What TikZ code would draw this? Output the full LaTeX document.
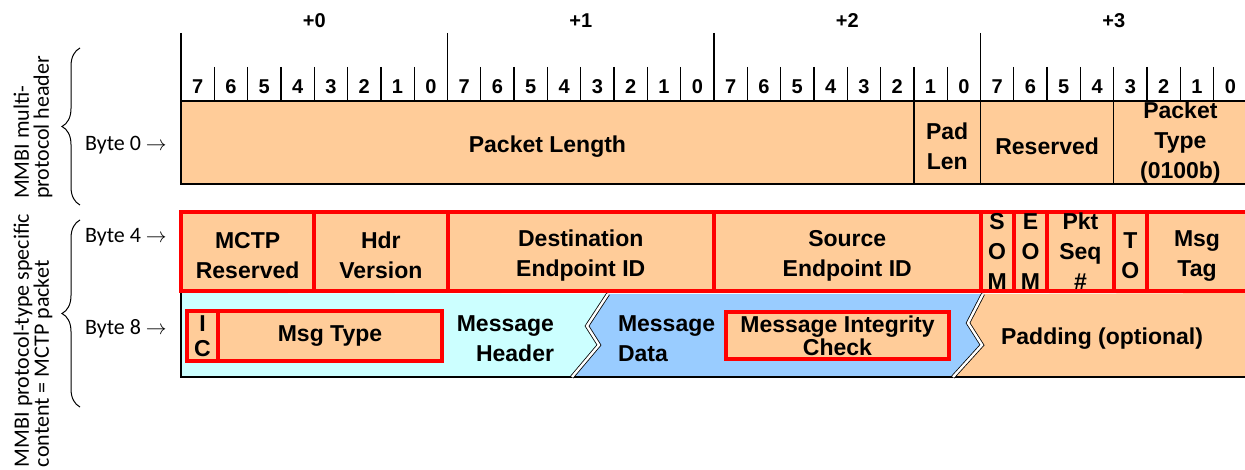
\documentclass[tikz,border=0pt]{standalone}
\usepackage{fontspec}
\setmainfont{Liberation Sans}
\newfontfamily\sidefont{Carlito}
\usepackage{tikz}
\usetikzlibrary{decorations.pathreplacing}
\definecolor{peach}{RGB}{255,204,153}
\definecolor{hdrcyan}{RGB}{204,255,255}
\definecolor{datablue}{RGB}{153,204,255}
\definecolor{mctpred}{RGB}{255,0,0}
\def\bw{33.3125}
\def\lft{181}
\newcommand{\lowstrut}{\rule{0pt}{25pt}}

\begin{document}
\begin{tikzpicture}[x=1pt, y=-1pt,
  every node/.style={inner sep=0pt, outer sep=0pt, align=center, font=\fontsize{23}{30}\selectfont\bfseries},
  bitnum/.style={font=\fontsize{20}{20}\selectfont\bfseries},
  hdrfield/.style={draw=black, line width=1.3pt, fill=peach, anchor=north west, minimum height=83pt},
  mctpfield/.style={draw=mctpred, line width=4pt, fill=peach, anchor=north west, minimum height=79pt},
  mctpbox/.style={draw=mctpred, line width=3.6pt, fill=peach, anchor=north west},
  sidelbl/.style={font=\fontsize{22}{20}\selectfont\sidefont},
  zig/.style={draw=black, line width=0.8pt, double=white, double distance=2.4pt}]
\useasboundingbox (0,0) rectangle (1245,470);

% byte offsets and bit numbers
\foreach \b in {0,...,3} {
  \draw[line width=1.3pt] ({\lft+\b*8*\bw},33) -- ({\lft+\b*8*\bw},101);
  \node[bitnum] (offs\b) at ({\lft+(\b*8+4)*\bw},21) {+\b};
}
\foreach \i in {0,...,31} {
  \pgfmathtruncatemacro\bitno{7-mod(\i,8)}
  \draw[line width=1.3pt] ({\lft+\i*\bw},67) -- ({\lft+\i*\bw},101);
  \node[bitnum] (bit\i) at ({\lft+(\i+0.5)*\bw},87) {\bitno};
}

% MMBI header
\node[hdrfield, minimum width={22*\bw}] (pktlen) at (\lft,101) {\lowstrut Packet Length};
\node[hdrfield, minimum width={2*\bw}] (padlen) at ({\lft+22*\bw},101) {\lowstrut Pad\\Len};
\node[hdrfield, minimum width={4*\bw}] (rsvd) at ({\lft+24*\bw},101) {\lowstrut Reserved};
\node[hdrfield, minimum width={4*\bw}] (pkttype) at ({\lft+28*\bw},101) {Packet\\Type\\(0100b)};

% MCTP transport header
\node[mctpfield, minimum width={4*\bw}] (mctprsvd) at (\lft,212) {\lowstrut MCTP\\Reserved};
\node[mctpfield, minimum width={4*\bw}] (hdrver) at ({\lft+4*\bw},212) {\lowstrut Hdr\\Version};
\node[mctpfield, minimum width={8*\bw}] (destid) at ({\lft+8*\bw},212) {\lowstrut Destination\\Endpoint ID};
\node[mctpfield, minimum width={8*\bw}] (srcid) at ({\lft+16*\bw},212) {\lowstrut Source\\Endpoint ID};
\node[mctpfield, minimum width={\bw}] (som) at ({\lft+24*\bw},212) {S\\O\\M};
\node[mctpfield, minimum width={\bw}] (eom) at ({\lft+25*\bw},212) {E\\O\\M};
\node[mctpfield, minimum width={2*\bw}] (pktseq) at ({\lft+26*\bw},212) {Pkt\\Seq\\\#};
\node[mctpfield, minimum width={\bw}] (tobit) at ({\lft+28*\bw},212) {\lowstrut T\\O};
\node[mctpfield, minimum width={3*\bw}] (msgtag) at ({\lft+29*\bw},212) {\lowstrut Msg\\Tag};

% message body
\coordinate (za1) at (608,294);
\coordinate (za2) at (587,326);
\coordinate (za3) at (599,345);
\coordinate (za4) at (572,377);
\coordinate (zb1) at (983,294);
\coordinate (zb2) at (968,323);
\coordinate (zb3) at (982,345);
\coordinate (zb4) at (953,377);
\fill[hdrcyan] (\lft,293) -- (za1) -- (za2) -- (za3) -- (za4) -- (\lft,377) -- cycle;
\fill[datablue] (za1) -- (zb1) -- (zb2) -- (zb3) -- (zb4) -- (za4) -- (za3) -- (za2) -- cycle;
\fill[peach] (zb1) -- (1250,293) -- (1250,377) -- (zb4) -- (zb3) -- (zb2) -- cycle;
\draw[line width=1.3pt] (\lft,293) -- (\lft,377) -- (1250,377);
\draw[zig] (za1) -- (za2) -- (za3) -- (za4);
\draw[zig] (zb1) -- (zb2) -- (zb3) -- (zb4);

\node[mctpbox, minimum width=31, minimum height=50, font=\fontsize{23}{25}\selectfont\bfseries] (icbit) at (187,311) {I\\C};
\node[mctpbox, minimum width=224, minimum height=50] (msgtype) at (218,311) {Msg Type};
\node[anchor=east, align=right] (msghdr) at (554,339) {Message\\Header};
\node[anchor=west, align=left] (msgdata) at (618,339) {Message\\Data};
\node[mctpbox, minimum width=223, minimum height=47, font=\fontsize{23}{23}\selectfont\bfseries] (mic) at (726,312) {Message Integrity\\Check};
\node (padding) at (1102,339) {Padding (optional)};

% left labels
\draw[line width=1pt, decorate, decoration={brace, amplitude=18pt}] (80,205) -- (80,48);
\draw[line width=1pt, decorate, decoration={brace, amplitude=18pt}] (80,407) -- (80,220);
\node[sidelbl, rotate=90, anchor=west, align=left] (hdrlbl) at (33,199) {MMBI multi-\\protocol header};
\node[sidelbl, rotate=90, anchor=west, align=left] (mctplbl) at (33,467) {MMBI protocol-type specific\\content = MCTP packet};
\node[sidelbl, anchor=west] (byte0) at (85,145) {Byte 0 $\rightarrow$};
\node[sidelbl, anchor=west] (byte4) at (85,237) {Byte 4 $\rightarrow$};
\node[sidelbl, anchor=west] (byte8) at (85,329) {Byte 8 $\rightarrow$};
\end{tikzpicture}
\end{document}
